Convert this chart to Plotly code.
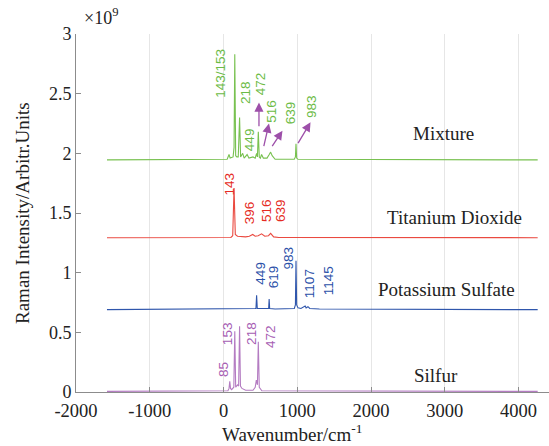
import plotly.graph_objects as go

# ---- data ----
mix_x = [-1580, 50, 75, 90, 130, 143, 153, 165, 180, 200, 218, 232, 260, 280, 320, 345, 400, 430, 449, 460,
         472, 485, 500, 516, 540, 590, 620, 639, 660, 700, 960, 975, 983, 992, 1010, 4260]
mix_y = [1.945, 1.95, 1.99, 1.96, 1.97, 2.05, 2.83, 1.98, 1.97, 1.97, 2.30, 1.97, 2.0, 1.96, 1.99, 1.96, 1.97, 1.96, 2.0, 1.97,
         2.18, 1.97, 1.96, 1.99, 1.96, 1.96, 1.99, 2.01, 1.98, 1.95, 1.95, 1.97, 2.08, 1.96, 1.95, 1.945]

tio_x = [-1580, 100, 125, 143, 160, 190, 300, 350, 396, 430, 470, 516, 560, 610, 639, 680, 750, 4260]
tio_y = [1.293, 1.295, 1.31, 1.71, 1.32, 1.305, 1.30, 1.305, 1.32, 1.305, 1.31, 1.325, 1.305, 1.31, 1.33, 1.30, 1.295, 1.293]

ks_x = [-1580, 420, 440, 449, 458, 600, 612, 619, 626, 700, 960, 975, 983, 992, 1010, 1050, 1080, 1107, 1120,
        1145, 1170, 1300, 4260]
ks_y = [0.69, 0.695, 0.70, 0.81, 0.70, 0.70, 0.70, 0.78, 0.70, 0.695, 0.70, 0.73, 1.10, 0.73, 0.705, 0.70, 0.71, 0.72, 0.705,
        0.715, 0.70, 0.695, 0.69]

s_x = [-1580, 60, 75, 85, 95, 110, 140, 153, 165, 190, 205, 218, 230, 250, 300, 400, 430, 445, 460, 472, 485, 520, 4260]
s_y = [0.005, 0.01, 0.03, 0.09, 0.03, 0.02, 0.04, 0.51, 0.04, 0.06, 0.05, 0.55, 0.05, 0.03, 0.015, 0.015, 0.04, 0.10,
       0.06, 0.42, 0.04, 0.01, 0.005]

# peak labels: (text, x, y)
mix_labels = [("143/153", -41, 2.67), ("218", 298, 2.51), ("449", 353, 2.115), ("472", 502, 2.584),
              ("516", 647, 2.35), ("639", 908, 2.34), ("983", 1203, 2.39)]
tio_labels = [("143", 85, 1.746), ("396", 353, 1.503), ("516", 583, 1.52), ("639", 773, 1.52)]
ks_labels = [("449", 508, 1.0), ("619", 678, 0.966), ("983", 885, 1.126), ("1107", 1166, 0.908), ("1145", 1424, 0.933)]
s_labels = [("85", 0, 0.188), ("153", 54, 0.489), ("218", 376, 0.489), ("472", 637, 0.464)]

# arrows: (tail x, tail y, head x, head y)
arrows = [(481, 2.215, 481, 2.425), (542, 2.048, 617, 2.249), (647, 2.048, 800, 2.19), (999, 2.073, 1180, 2.26)]

series_names = [("Mixture", 2983, 2.165), ("Titanium Dioxide", 3132, 1.461),
                ("Potassium Sulfate", 3024, 0.858), ("Silfur", 2875, 0.137)]

x_ticks = [-2000, -1000, 0, 1000, 2000, 3000, 4000]
y_ticks = [0, 0.5, 1, 1.5, 2, 2.5, 3]
y_tick_text = ["0", "0.5", "1", "1.5", "2", "2.5", "3"]

GREEN, GREEN_T = "#78c150", "#6cbb45"
RED, RED_T = "#ea4a40", "#e52a22"
BLUE, BLUE_T = "#2f56ac", "#2b50a8"
PURP, PURP_T = "#b47cc2", "#a65db3"
ARROW = "#9d4fa9"
SERIF = "Liberation Serif"
SANS = "Liberation Sans"
TXT = "#222222"

W, H = 549, 446
L, R, T, B = 76, 0, 34, 54
PW, PH = W - L - R, H - T - B

fig = go.Figure()
for xs, ys, c in [(mix_x, mix_y, GREEN), (tio_x, tio_y, RED), (ks_x, ks_y, BLUE), (s_x, s_y, PURP)]:
    fig.add_trace(go.Scatter(x=xs, y=ys, mode="lines", line=dict(color=c, width=1.1), showlegend=False,
                             hoverinfo="skip"))

ann = []
for labels, c in [(mix_labels, GREEN_T), (tio_labels, RED_T), (ks_labels, BLUE_T), (s_labels, PURP_T)]:
    for t, x, y in labels:
        ann.append(dict(x=x, y=y, xref="x", yref="y", text=t, showarrow=False, textangle=-90,
                        font=dict(family=SANS, size=13.5, color=c)))
for tx, ty, hx, hy in arrows:
    ann.append(dict(x=hx, y=hy, ax=tx, ay=ty, xref="x", yref="y", axref="x", ayref="y", text="",
                    showarrow=True, arrowhead=2, arrowsize=1.4, arrowwidth=1.3, arrowcolor=ARROW))
for t, x, y in series_names:
    ann.append(dict(x=x, y=y, xref="x", yref="y", text=t, showarrow=False,
                    font=dict(family=SERIF, size=19, color=TXT)))
# x10^9 multiplier, placed above the top of the y axis
ann.append(dict(x=(82 - L) / PW, y=1 + (T - 30) / PH, xref="paper", yref="paper",
                text="×10<sup>9</sup>", showarrow=False, xanchor="left", yanchor="bottom",
                font=dict(family=SERIF, size=18, color=TXT)))
# axis titles
ann.append(dict(x=(22 - L) / PW, y=(H - B - 213) / PH, xref="paper", yref="paper",
                text="Raman Intensity/Arbitr.Units", showarrow=False, textangle=-90,
                xanchor="center", yanchor="middle", font=dict(family=SERIF, size=19, color=TXT)))
ann.append(dict(x=(292 - L) / PW, y=-(433 - (H - B)) / PH, xref="paper", yref="paper",
                text="Wavenumber/cm<sup>-1</sup>", showarrow=False,
                xanchor="center", yanchor="middle", font=dict(family=SERIF, size=19, color=TXT)))

fig.update_layout(
    width=W, height=H, margin=dict(l=L, r=R, t=T, b=B),
    paper_bgcolor="white", plot_bgcolor="white",
    annotations=ann,
    xaxis=dict(range=[-2000, -2000 + PW / 73.75 * 1000], tickvals=x_ticks,
               ticktext=[str(v) for v in x_ticks], showgrid=True, gridcolor="#e6e6e6", gridwidth=1,
               zeroline=False, showline=True, linecolor="#8c8c8c", linewidth=1,
               ticks="inside", ticklen=5, tickcolor="#8c8c8c", ticklabelstandoff=2,
               tickfont=dict(family=SERIF, size=18.5, color=TXT)),
    yaxis=dict(range=[0, 3], tickvals=y_ticks, ticktext=y_tick_text, showgrid=False, zeroline=False,
               showline=True, linecolor="#8c8c8c", linewidth=1, ticks="inside", ticklen=5, tickcolor="#8c8c8c",
               tickfont=dict(family=SERIF, size=18, color=TXT)),
)
fig.write_html("out.html")
